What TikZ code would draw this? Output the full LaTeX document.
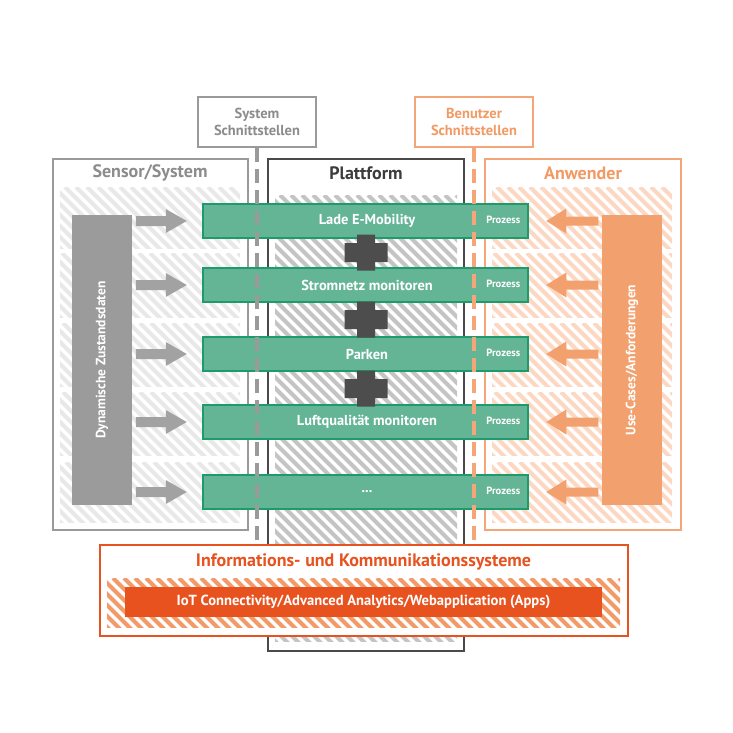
\documentclass[tikz,border=0pt]{standalone}
\usepackage{fontspec}
\setmainfont{PT Sans}
\usetikzlibrary{calc}
\definecolor{greyline}{HTML}{9A9A9A}
\definecolor{greytxt}{HTML}{8C8C8C}
\definecolor{greybar}{HTML}{9B9B9B}
\definecolor{greyarr}{HTML}{A2A2A2}
\definecolor{greyhatch}{HTML}{E8E8E8}
\definecolor{platline}{HTML}{4A4A4A}
\definecolor{plattxt}{HTML}{3C3C3C}
\definecolor{plathatch}{HTML}{C4C4C4}
\definecolor{crossc}{HTML}{4D4D4D}
\definecolor{greenfill}{HTML}{64B496}
\definecolor{greenline}{HTML}{1E9B6D}
\definecolor{orline}{HTML}{F4A679}
\definecolor{ortxt}{HTML}{F29A64}
\definecolor{orbar}{HTML}{F2A06E}
\definecolor{orhatch}{HTML}{FCD8C3}
\definecolor{deep}{HTML}{E8521E}
\definecolor{deephatch}{HTML}{F39B68}
\newcommand\myhatch[5]{%
  \begin{scope}
    \clip (#2,#3) rectangle (#4,#5);
    \pgfmathtruncatemacro\myhh{#5-#3}
    \pgfmathtruncatemacro\mylim{#4-#2+#5-#3+12}
    \foreach \s in {0,11,...,\mylim}
      \draw[#1,line width=4pt] ($(#2,#3)+(\s,0)+(-\myhh,0)$) -- ++(\myhh+4,\myhh+4);
  \end{scope}}
\newcommand\rarrow[1]{\fill[greyarr] ($(#1.west)+(-66,-5)$) -- ++(30,0) -- ++(0,-7) -- ($(#1.west)+(-15,0)$) -- ++(-21,12) -- ++(0,-7) -- ++(-30,0) -- cycle;}
\newcommand\larrow[1]{\fill[orbar] ($(#1.east)+(69,-4.5)$) -- ++(-32,0) -- ++(0,-8) -- ($(#1.east)+(17,0)$) -- ++(20,12.5) -- ++(0,-8) -- ++(32,0) -- cycle;}
\newcommand\mycross[1]{\fill[crossc] ($(#1)+(-9,-18)$) -- ++(18,0) -- ++(0,8.5) -- ++(12.5,0) -- ++(0,19) -- ++(-12.5,0) -- ++(0,8.5) -- ++(-18,0) -- ++(0,-8.5) -- ++(-12.5,0) -- ++(0,-19) -- ++(12.5,0) -- cycle;}
\begin{document}
\begin{tikzpicture}[x=1pt,y=-1pt,
  box/.style={draw, line width=2pt, inner sep=0pt},
  ttl/.style={font=\bfseries\fontsize{18}{21}\selectfont, inner sep=0pt},
  iftxt/.style={font=\bfseries\fontsize{14.5}{17}\selectfont, inner sep=0pt, align=center},
  gbar/.style={fill=greenfill, draw=greenline, line width=2.5pt, minimum width=325pt, minimum height=34pt, inner sep=0pt},
  btxt/.style={font=\bfseries\fontsize{14.4}{16}\selectfont, text=white, inner sep=0pt},
  ptxt/.style={font=\bfseries\fontsize{10.5}{12}\selectfont, text=white, inner sep=0pt},
  vtxt/.style={font=\bfseries\fontsize{13.5}{15}\selectfont, text=white, inner sep=0pt, rotate=90},
  gdash/.style={draw=greyline, line width=4pt, dash pattern=on 14pt off 7pt},
  odash/.style={draw=orline, line width=4pt, dash pattern=on 14pt off 7pt},
]
\useasboundingbox (0,0) rectangle (733,733);
\fill[white] (0,0) rectangle (733,733);
% hatches
\foreach \ya/\yb in {187/248,253/317,323/386,392/455,462/522}{
  \myhatch{greyhatch}{60}{\ya}{240}{\yb}
  \myhatch{orhatch}{492}{\ya}{672}{\yb}
}
\myhatch{plathatch}{275}{195}{457}{641}
% boxes
\node[box, draw=greyline, minimum width=195pt, minimum height=371pt] (sensor) at (150.5,344.5) {};
\node[box, draw=platline, minimum width=196pt, minimum height=492pt] (plat) at (366,405) {};
\node[box, draw=orline, minimum width=196pt, minimum height=371pt] (anw) at (583,344.5) {};
\node[ttl, text=greytxt] (sensorT) at (150,173) {Sensor/System};
\node[ttl, text=plattxt] (platT) at (366,173) {Plattform};
\node[ttl, text=ortxt] (anwT) at (583,173) {Anwender};
\node[box, draw=greyline, fill=white, minimum width=118pt, minimum height=50pt] (sys) at (257,122) {};
\node[iftxt, text=greytxt] (sysT) at (sys.center) {System\\Schnittstellen};
\node[box, draw=orline, fill=white, minimum width=118pt, minimum height=50pt] (ben) at (474,122) {};
\node[iftxt, text=ortxt] (benT) at (ben.center) {Benutzer\\Schnittstellen};
% side bars
\node[fill=greybar, minimum width=60pt, minimum height=290pt, inner sep=0pt] (dyn) at (102,360) {};
\node[vtxt] (dynT) at (dyn.center) {Dynamische Zustandsdaten};
\node[fill=orbar, minimum width=60pt, minimum height=290pt, inner sep=0pt] (uc) at (632,360) {};
\node[vtxt] (ucT) at (uc.center) {Use-Cases/Anforderungen};
% process bars
\node[gbar] (b1) at (365.5,221) {};
\node[gbar] (b2) at (365.5,285) {};
\node[gbar] (b3) at (365.5,354) {};
\node[gbar] (b4) at (365.5,422) {};
\node[gbar] (b5) at (365.5,492) {};
\node[btxt] (t1) at (367,221) {Lade E-Mobility};
\node[btxt] (t2) at (367,285) {Stromnetz monitoren};
\node[btxt] (t3) at (367,354) {Parken};
\node[btxt] (t4) at (367,422) {Luftqualität monitoren};
\node[btxt] (t5) at (367,492) {...};
\foreach \b in {b1,b2,b3,b4,b5}{
  \node[ptxt] (p\b) at ($(\b.east)+(-26,-1)$) {Prozess};
  \rarrow{\b}
  \larrow{\b}
}
% crosses
\coordinate (c1) at (366,252.5);
\coordinate (c2) at (366,319.5);
\coordinate (c3) at (366,388.5);
\mycross{c1}\mycross{c2}\mycross{c3}
% info box
\node[box, draw=deep, fill=white, minimum width=528pt, minimum height=91pt] (info) at (363.5,590.5) {};
% dashed interface lines
\draw[gdash] (sys.south) -- (sys.south |- info.north);
\draw[odash] (ben.south) -- (ben.south |- info.north);
\myhatch{deephatch}{107}{578}{620}{627}
\node[ttl, text=deep] (infoT) at (363.5,562) {Informations- und Kommunikationssysteme};
\node[fill=deep, minimum width=477pt, minimum height=30pt, inner sep=0pt] (iot) at (363.5,602) {};
\node[btxt, font=\bfseries\fontsize{14.6}{16}\selectfont] (iotT) at (iot.center) {IoT Connectivity/Advanced Analytics/Webapplication (Apps)};
\end{tikzpicture}
\end{document}
